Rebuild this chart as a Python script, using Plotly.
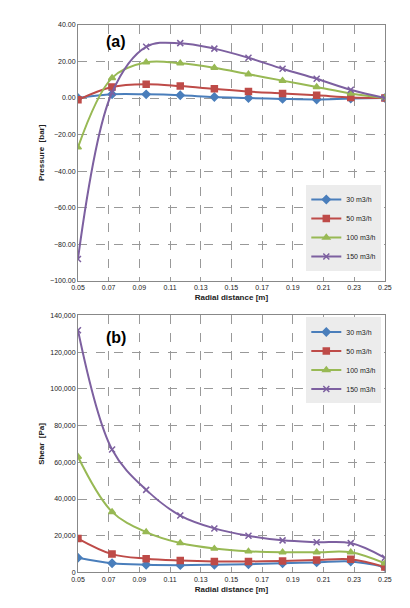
import plotly.graph_objects as go

x = [0.05 + i * 0.2 / 9 for i in range(10)]
names = ["30 m3/h", "50 m3/h", "100 m3/h", "150 m3/h"]
colors = ["#4a7ebb", "#be4b48", "#98b954", "#7d60a0"]
symbols = ["diamond", "square", "triangle-up", "x-thin"]
pressure = [
    [0, 2, 2, 1.5, 0.5, 0, -0.5, -0.8, -0.3, 0],
    [-1, 6, 7.5, 6.5, 5, 3.5, 2.5, 1.5, 0.3, 0],
    [-27, 11, 19.5, 19, 16.5, 13, 9.5, 6, 2.5, 0],
    [-88, 3, 28, 30, 27, 22, 16, 10.5, 4.5, 0],
]
shear = [
    [8000, 5000, 4200, 4000, 4200, 4500, 5000, 5500, 6000, 3000],
    [18500, 10000, 7500, 6500, 6000, 6000, 6300, 6800, 7200, 3000],
    [63000, 33000, 22000, 16000, 13000, 11500, 11000, 11000, 11000, 5000],
    [132000, 67000, 45000, 31000, 24000, 20000, 17500, 16500, 16000, 8000],
]

fig = go.Figure()
for i in range(4):
    for data, xa, ya, leg in [(pressure[i], "x", "y", "legend"), (shear[i], "x2", "y2", "legend2")]:
        fig.add_trace(go.Scatter(
            x=x, y=data, name=names[i], xaxis=xa, yaxis=ya, legend=leg,
            mode="lines+markers", line=dict(color=colors[i], width=2, shape="spline"),
            marker=dict(symbol=symbols[i], size=6, color=colors[i],
                        line=dict(color=colors[i], width=1.5))))

font = dict(family="Liberation Sans, Arial", size=8, color="#222")
ax = dict(range=[0.05, 0.25], dtick=0.02, tick0=0.05, tickformat=".2f",
          showgrid=True, gridcolor="#999", griddash="dash", gridwidth=1,
          showline=True, linecolor="#888", mirror=True, zeroline=False,
          tickfont=dict(size=7, family="Liberation Sans", color="#222"),
          title=dict(text="<b>Radial distance [m]</b>", font=dict(size=8), standoff=4))
ay = dict(showgrid=True, gridcolor="#999", griddash="dash", gridwidth=1,
          showline=True, linecolor="#888", mirror=True, zeroline=False,
          tickfont=dict(size=7, family="Liberation Sans", color="#222"))
leg = dict(bgcolor="#ececec", font=dict(size=7), tracegroupgap=0, itemwidth=30,
           xanchor="right", x=0.925)
fig.update_layout(
    width=410, height=608, margin=dict(l=0, r=0, t=0, b=0),
    paper_bgcolor="white", plot_bgcolor="white", font=font,
    xaxis=dict(ax, domain=[0.159, 0.934], anchor="y"),
    yaxis=dict(ay, domain=[1 - 272 / 608, 1 - 13 / 608], range=[-100, 40], dtick=20, tickformat=".2f",
               title=dict(text="<b>Pressure  [bar]</b>", font=dict(size=8), standoff=4), anchor="x"),
    xaxis2=dict(ax, domain=[0.159, 0.934], anchor="y2"),
    yaxis2=dict(ay, domain=[1 - 567 / 608, 1 - 307 / 608], range=[0, 140000], dtick=20000, tickformat=",",
                title=dict(text="<b>Shear  [Pa]</b>", font=dict(size=8), standoff=4), anchor="x2"),
    legend=dict(leg, y=1 - 262 / 608, yanchor="bottom"),
    legend2=dict(leg, y=1 - 309 / 608, yanchor="top"),
    annotations=[
        dict(text="<b>(a)</b>", x=0.075, y=31, xref="x", yref="y", showarrow=False, font=dict(size=16, color="black")),
        dict(text="<b>(b)</b>", x=0.075, y=128000, xref="x2", yref="y2", showarrow=False, font=dict(size=16, color="black")),
    ],
)
fig.write_html("out.html")
